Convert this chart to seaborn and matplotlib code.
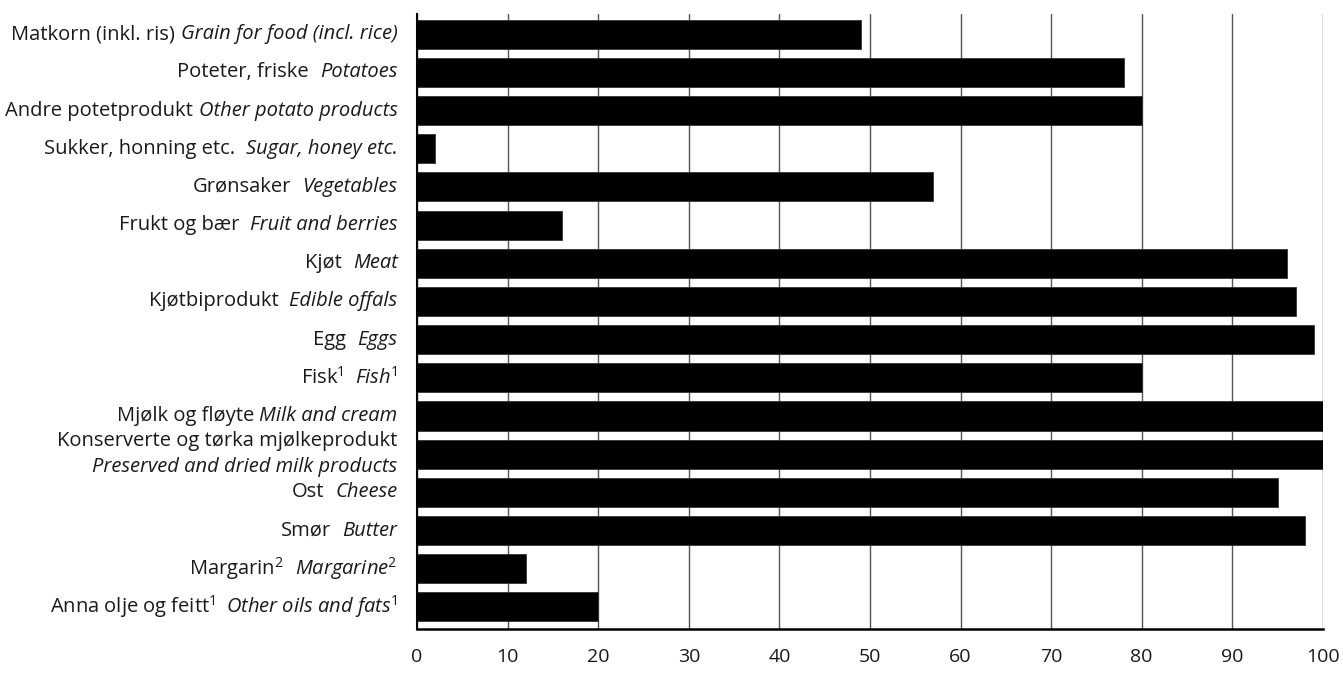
import matplotlib
matplotlib.use("Agg")
import matplotlib.pyplot as plt
from matplotlib.offsetbox import TextArea, HPacker, VPacker, AnnotationBbox
import seaborn as sns

# Norwegian (regular) and English (italic) label parts
nn_labels = [
    "Matkorn (inkl. ris)",
    "Poteter, friske",
    "Andre potetprodukt",
    "Sukker, honning etc.",
    "Grønsaker",
    "Frukt og bær",
    "Kjøt",
    "Kjøtbiprodukt",
    "Egg",
    "Fisk$^1$",
    "Mjølk og fløyte",
    "Konserverte og tørka mjølkeprodukt",
    "Ost",
    "Smør",
    "Margarin$^2$",
    "Anna olje og feitt$^1$",
]
en_labels = [
    "Grain for food (incl. rice)",
    "Potatoes",
    "Other potato products",
    "Sugar, honey etc.",
    "Vegetables",
    "Fruit and berries",
    "Meat",
    "Edible offals",
    "Eggs",
    "Fish$^\\mathit{1}$",
    "Milk and cream",
    "Preserved and dried milk products",
    "Cheese",
    "Butter",
    "Margarine$^\\mathit{2}$",
    "Other oils and fats$^\\mathit{1}$",
]
# labels drawn on two lines instead of one
two_line = ["Konserverte og tørka mjølkeprodukt"]
# labels with only one space between the two languages
one_space = ["Matkorn (inkl. ris)", "Andre potetprodukt", "Mjølk og fløyte"]

values = [49, 78, 80, 2, 57, 16, 96, 97, 99, 80, 100, 100, 95, 98, 12, 20]
x_ticks = [0, 10, 20, 30, 40, 50, 60, 70, 80, 90, 100]

sns.set_style("white")
plt.rcParams["font.family"] = ["Open Sans", "DejaVu Sans"]
plt.rcParams["font.size"] = 14.5
plt.rcParams["mathtext.fontset"] = "custom"
plt.rcParams["mathtext.rm"] = "Open Sans"
plt.rcParams["mathtext.it"] = "Open Sans:italic"

fig = plt.figure(figsize=(13.43, 6.84), dpi=100)
ax = fig.add_axes([0.3105, 0.0804, 0.6745, 0.8991])

sns.barplot(x=values, y=nn_labels, orient="h", color="black",
            saturation=1, width=0.76, ax=ax, edgecolor="#333333", linewidth=0.6)

ax.set_xlim(0, 100)
ax.set_ylim(len(values) - 0.42, -0.53)
ax.set_xticks(x_ticks)
ax.set_xticklabels([str(t) for t in x_ticks], color="#1a1a1a")
ax.tick_params(axis="x", length=0, pad=14, labelsize=14)
ax.set_yticks(range(len(values)))
ax.set_yticklabels([])
ax.tick_params(axis="y", length=0)
ax.set_xlabel("")
ax.set_ylabel("")

ax.set_axisbelow(True)
ax.grid(axis="x", color="#555555", linewidth=1)
ax.grid(axis="y", visible=False)
for side in ["top", "right"]:
    ax.spines[side].set_visible(False)
ax.spines["left"].set_color("black")
ax.spines["left"].set_linewidth(1.5)
ax.spines["bottom"].set_color("black")
ax.spines["bottom"].set_linewidth(1.8)

txt = dict(color="#1a1a1a", fontsize=14.5)
ital = dict(color="#1a1a1a", fontsize=14.5, style="italic")
for i, (nn, en) in enumerate(zip(nn_labels, en_labels)):
    if nn in two_line:
        box = VPacker(children=[TextArea(nn, textprops=txt),
                                TextArea(en, textprops=ital)],
                      align="right", pad=0, sep=4)
    else:
        gap = 4 if nn in one_space else 8
        box = HPacker(children=[TextArea(nn, textprops=txt),
                                TextArea(en, textprops=ital)],
                      align="baseline", pad=0, sep=gap)
    ab = AnnotationBbox(box, xy=(0, i), xycoords=("axes fraction", "data"),
                        xybox=(-14, 0), boxcoords="offset points",
                        box_alignment=(1, 0.5), frameon=False, pad=0)
    ax.add_artist(ab)

fig.savefig("out.png", dpi=100)
